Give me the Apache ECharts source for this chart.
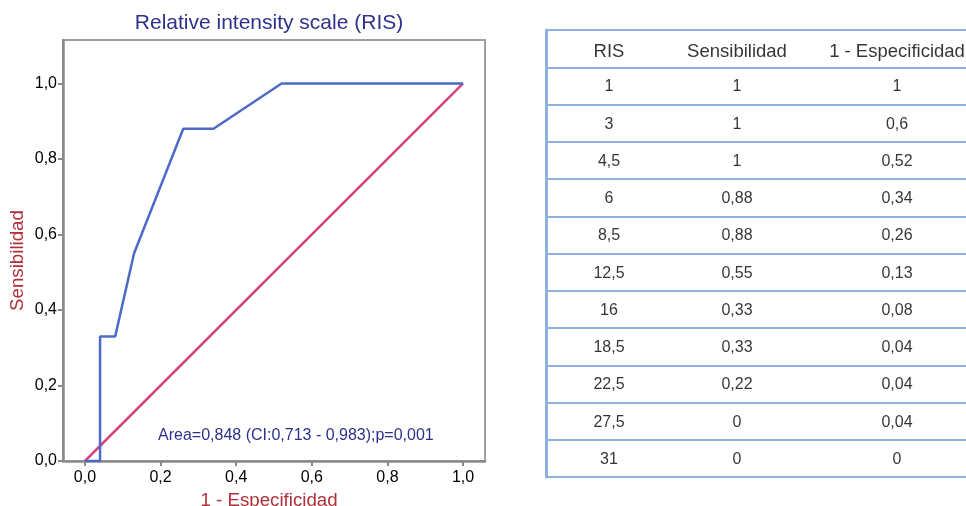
<!DOCTYPE html>
<html><head><meta charset="utf-8">
<script src="https://cdn.jsdelivr.net/npm/echarts@6/dist/echarts.min.js"></script>
<style>html,body{margin:0;padding:0;background:#fff}#c{width:966px;height:506px}</style>
</head><body><div id="c"></div>
<script>
const titleText = 'Relative intensity scale (RIS)';
const xName = '1 - Especificidad';
const yName = 'Sensibilidad';
const areaText = 'Area=0,848 (CI:0,713 - 0,983);p=0,001';
const tableHeaders = ['RIS', 'Sensibilidad', '1 - Especificidad'];
const risCutoffs = ['1', '3', '4,5', '6', '8,5', '12,5', '16', '18,5', '22,5', '27,5', '31'];
const sensitivity = [1, 1, 1, 0.88, 0.88, 0.55, 0.33, 0.33, 0.22, 0, 0];
const oneMinusSpec = [1, 0.6, 0.52, 0.34, 0.26, 0.13, 0.08, 0.04, 0.04, 0.04, 0];
const refLine = [[0, 0], [1, 1]];
const axisTickValues = [0, 0.2, 0.4, 0.6, 0.8, 1.0];

const FONT = '"Liberation Sans", Arial, Helvetica, sans-serif';
const comma = v => String(v).replace('.', ',');
const tickFmt = v => v.toFixed(1).replace('.', ',');

const rocData = oneMinusSpec.map((x, i) => [x, sensitivity[i]]).reverse();

// table cells
const tableColumns = [
  [tableHeaders[0]].concat(risCutoffs),
  [tableHeaders[1]].concat(sensitivity.map(comma)),
  [tableHeaders[2]].concat(oneMinusSpec.map(comma))
];
const rowKeys = tableColumns[0].map((_, i) => 'r' + i);
const colOffsets = [[-7, 0], [-19, 0], [1, 0]];
const tableSeries = tableColumns.map((col, c) => ({
  type: 'scatter', xAxisIndex: 1, yAxisIndex: 1, symbolSize: 0, silent: true,
  data: col.map((t, r) => ({
    value: [c, r, t],
    label: { fontSize: r === 0 ? 18.5 : 16, offset: [colOffsets[c][0], r === 0 ? 3 : 1] }
  })),
  label: {
    show: true, position: 'inside',
    formatter: p => p.value[2], color: '#000', fontFamily: FONT
  }
}));

const axisGray = '#8a8a8a';
const tableBlue = '#8fb1df';

const chart = echarts.init(document.getElementById('c'), null, { renderer: 'canvas' });
chart.setOption({
  backgroundColor: '#fff',
  animation: false,
  textStyle: { fontFamily: FONT },
  title: {
    text: titleText, left: 264, top: 8, textAlign: 'center',
    textStyle: { color: '#2e318c', fontSize: 21, fontWeight: 'normal', fontFamily: FONT }
  },
  grid: [
    { left: 63, top: 40, width: 422, height: 421, show: true, borderColor: '#a0a0a0', borderWidth: 2, backgroundColor: 'transparent', outerBoundsMode: 'none', containLabel: false },
    { left: 546, top: 30, right: 0, height: 447, outerBoundsMode: 'none', containLabel: false }
  ],
  xAxis: [
    {
      type: 'value', gridIndex: 0, min: -0.058, max: 1.058,
      name: xName, nameLocation: 'middle', nameGap: 29,
      nameTextStyle: { color: '#b0303a', fontSize: 18.7, fontFamily: FONT, padding: [0, 10, 0, 0] },
      axisLine: { show: true, onZero: false, lineStyle: { color: axisGray, width: 2.5 } },
      axisTick: { show: true, length: 5, customValues: axisTickValues, lineStyle: { color: axisGray, width: 2 } },
      axisLabel: { customValues: axisTickValues, formatter: tickFmt, color: '#000', fontSize: 16, margin: 9, fontFamily: FONT },
      splitLine: { show: false }
    },
    {
      type: 'category', gridIndex: 1, data: tableHeaders, boundaryGap: true,
      axisLine: { show: false }, axisTick: { show: false }, axisLabel: { show: false }, splitLine: { show: false }
    }
  ],
  yAxis: [
    {
      type: 'value', gridIndex: 0, min: 0, max: 1.115,
      name: yName, nameLocation: 'middle', nameGap: 36, nameRotate: 90,
      nameTextStyle: { color: '#b0303a', fontSize: 18.7, fontFamily: FONT, padding: [0, 20, 0, 0] },
      axisLine: { show: true, onZero: false, lineStyle: { color: axisGray, width: 2.5 } },
      axisTick: { show: true, length: 5, customValues: axisTickValues, lineStyle: { color: axisGray, width: 2 } },
      axisLabel: { customValues: axisTickValues, formatter: tickFmt, color: '#000', fontSize: 16, margin: 6, fontFamily: FONT },
      splitLine: { show: false }
    },
    {
      type: 'category', gridIndex: 1, data: rowKeys, inverse: true, boundaryGap: true,
      axisLine: { show: true, lineStyle: { color: tableBlue, width: 3 } },
      axisTick: { show: false }, axisLabel: { show: false },
      splitLine: { show: true, lineStyle: { color: tableBlue, width: 2 } }
    }
  ],
  graphic: [
    { type: 'text', left: 158, top: 428, style: { text: areaText, fill: '#2e318c', fontSize: 16, fontFamily: FONT } }
  ],
  series: [
    {
      type: 'line', name: 'ref', xAxisIndex: 0, yAxisIndex: 0, data: refLine,
      symbol: 'none', lineStyle: { color: '#d2457f', width: 2.5 }, silent: true
    },
    {
      type: 'line', name: 'ROC', xAxisIndex: 0, yAxisIndex: 0, data: rocData,
      symbol: 'none', lineStyle: { color: '#4c6bc9', width: 2.5 }, silent: true
    }
  ].concat(tableSeries)
});
</script></body></html>
